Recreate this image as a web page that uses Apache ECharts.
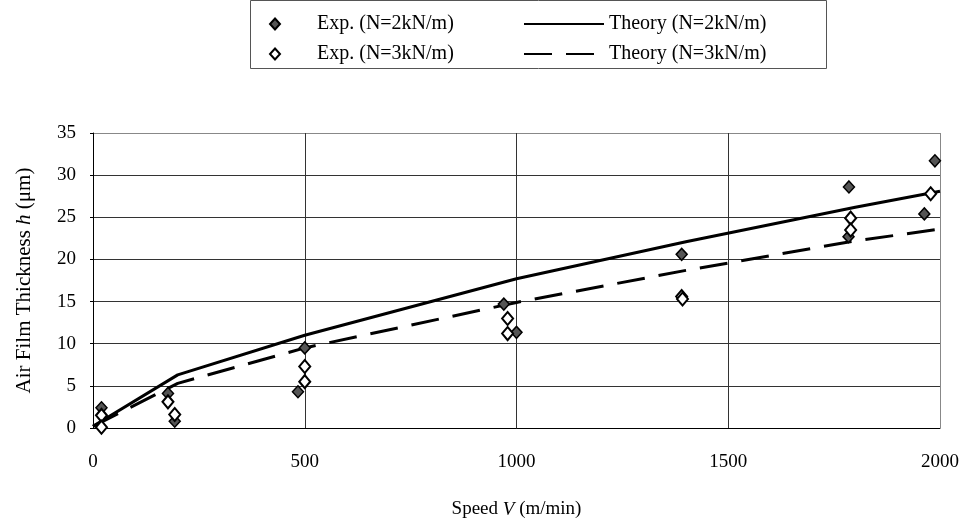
<!DOCTYPE html>
<html>
<head>
<meta charset="utf-8">
<script src="https://cdn.jsdelivr.net/npm/echarts@6/dist/echarts.min.js"></script>
<style>
    html, body { margin: 0; padding: 0; background: #fff; }
    #chart { width: 964px; height: 528px; }
</style>
</head>
<body>
<div id="chart"></div>
<script>
// Air film thickness vs. speed

const FONT = 'Liberation Serif';

// Tick labels
const xTicks = [0, 500, 1000, 1500, 2000];
const yTicks = [0, 5, 10, 15, 20, 25, 30, 35];

// Theory curves (speed in m/min, thickness in um)
const theorySpeed = [0, 200, 500, 1000, 1400, 1800, 2000];
const theoryN2 = [0.2, 6.3, 11.0, 17.7, 22.1, 26.2, 28.1];
const theoryN3 = [0.2, 5.3, 9.5, 14.9, 18.7, 22.2, 23.6];

// Experimental points
const expN2Speed = [20, 177, 193, 484, 500, 970, 1000, 1390, 1785, 1784, 1963, 1988];
const expN2Value = [2.4, 4.1, 0.8, 4.3, 9.5, 14.7, 11.35, 20.6, 28.6, 22.7, 25.4, 31.7];
const expN3Speed = [20, 20, 177, 193, 500, 500, 979, 979, 1390, 1392, 1789, 1789, 1978];
const expN3Value = [1.5, 0.1, 3.1, 1.6, 7.3, 5.5, 13.0, 11.2, 15.6, 15.3, 24.9, 23.5, 27.8];

const names = ['Exp. (N=2kN/m)', 'Exp. (N=3kN/m)', 'Theory (N=2kN/m)', 'Theory (N=3kN/m)'];

function pairs(xs, ys) {
    return xs.map((x, i) => [x, ys[i]]);
}

const chart = echarts.init(document.getElementById('chart'));

const option = {
    backgroundColor: '#fff',
    animation: false,
    textStyle: { fontFamily: FONT, color: '#000' },
    graphic: [{
        type: 'rect',
        shape: { x: 250.5, y: 0.5, width: 576, height: 68 },
        style: { fill: 'none', stroke: '#555', lineWidth: 1 },
        silent: true
    }],
    legend: [{
        data: [names[0], names[1]],
        orient: 'vertical',
        left: 264,
        top: 9,
        itemGap: 10,
        itemWidth: 10,
        itemHeight: 11,
        textStyle: { fontFamily: FONT, fontSize: 20, color: '#000', padding: [0, 0, 0, 32] }
    }, {
        data: [names[2], names[3]],
        orient: 'vertical',
        left: 518,
        top: 9,
        itemGap: 10,
        itemWidth: 80,
        itemHeight: 11,
        itemStyle: { opacity: 0 },
        textStyle: { fontFamily: FONT, fontSize: 20, color: '#000' }
    }],
    grid: { left: 93, right: 24, top: 133, bottom: 100 },
    xAxis: {
        type: 'value',
        min: xTicks[0],
        max: xTicks[xTicks.length - 1],
        interval: xTicks[1] - xTicks[0],
        name: 'Speed {i|V} (m/min)',
        nameLocation: 'middle',
        nameGap: 72,
        nameTextStyle: {
            fontFamily: FONT, fontSize: 19, color: '#000',
            rich: { i: { fontFamily: FONT, fontSize: 19, fontStyle: 'italic', color: '#000' } }
        },
        axisLine: { lineStyle: { color: '#000', width: 1 } },
        axisTick: { show: false },
        axisLabel: {
            fontFamily: FONT, fontSize: 19, color: '#000', margin: 25,
            formatter: v => String(v)
        },
        splitLine: { show: true, lineStyle: { color: ['#333', '#333', '#333', '#333', '#888'], width: 1 } }
    },
    yAxis: {
        type: 'value',
        min: yTicks[0],
        max: yTicks[yTicks.length - 1],
        interval: yTicks[1] - yTicks[0],
        name: 'Air Film Thickness {i|h} (μm)',
        nameLocation: 'middle',
        nameGap: 58,
        nameTextStyle: {
            fontFamily: FONT, fontSize: 21, color: '#000',
            rich: { i: { fontFamily: FONT, fontSize: 21, fontStyle: 'italic', color: '#000' } }
        },
        axisLine: { show: true, lineStyle: { color: '#000', width: 1 } },
        axisTick: { show: true, length: 3, lineStyle: { color: '#000' } },
        axisLabel: { fontFamily: FONT, fontSize: 19, color: '#000', margin: 17 },
        splitLine: { show: true, lineStyle: { color: ['#333', '#333', '#333', '#333', '#333', '#333', '#333', '#888'], width: 1 } }
    },
    series: [{
        name: names[2],
        type: 'line',
        data: pairs(theorySpeed, theoryN2),
        symbol: 'none',
        color: '#000',
        lineStyle: { color: '#000', width: 3 },
        z: 2
    }, {
        name: names[3],
        type: 'line',
        data: pairs(theorySpeed, theoryN3),
        symbol: 'none',
        color: '#000',
        lineStyle: { color: '#000', width: 3, type: [28, 14] },
        z: 2
    }, {
        name: names[0],
        type: 'scatter',
        data: pairs(expN2Speed, expN2Value),
        symbol: 'diamond',
        symbolSize: [11, 12],
        itemStyle: { color: '#555', borderColor: '#000', borderWidth: 1.5, opacity: 1 },
        z: 3
    }, {
        name: names[1],
        type: 'scatter',
        data: pairs(expN3Speed, expN3Value),
        symbol: 'diamond',
        symbolSize: [11, 13],
        itemStyle: { color: '#fff', borderColor: '#000', borderWidth: 2, opacity: 1 },
        z: 4
    }]
};

chart.setOption(option);
</script>
</body>
</html>
